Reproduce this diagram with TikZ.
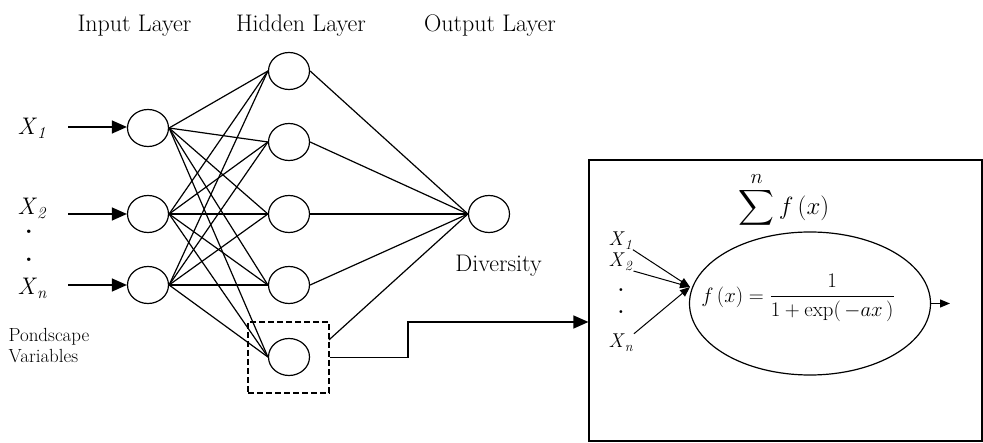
\documentclass[tikz,border=0pt]{standalone}
\usepackage{amsmath}
\usetikzlibrary{shapes.geometric,arrows.meta,calc}
\begin{document}
\begin{tikzpicture}[x=1pt,y=-1pt,line width=1.2pt,
  neuron/.style={draw,ellipse,minimum width=41pt,minimum height=37pt,inner sep=0pt},
  lbl/.style={font=\fontsize{24}{28}\selectfont,inner sep=0pt},
  small/.style={font=\fontsize{19}{21}\selectfont,inner sep=0pt,align=left},
  inlbl/.style={font=\fontsize{20}{24}\selectfont,inner sep=0pt},
  bigarrow/.style={-{Triangle[length=15pt,width=13pt]}},
  smallarrow/.style={-{Triangle[length=10pt,width=8pt]}},
  dotlbl/.style={inner sep=0pt,font=\fontsize{24}{28}\selectfont\bfseries}]
\useasboundingbox (0,0) rectangle (983,443);

% titles
\node[lbl,anchor=base] (tin) at (134.5,32) {Input Layer};
\node[lbl,anchor=base] (thid) at (301,32) {Hidden Layer};
\node[lbl,anchor=base] (tout) at (490,32) {Output Layer};

% neurons
\node[neuron] (i1) at (148,128) {};
\node[neuron] (i2) at (148,214) {};
\node[neuron] (i3) at (148,285) {};
\node[neuron] (h1) at (289,71) {};
\node[neuron] (h2) at (289,142) {};
\node[neuron] (h3) at (289,214) {};
\node[neuron] (h4) at (289,285) {};
\node[neuron] (h5) at (289,357) {};
\node[neuron] (o) at (489,214) {};

% input labels
\node[lbl,anchor=base west] (x1) at (17,135) {\textit{X}\textsubscript{\textit{1}}};
\node[lbl,anchor=base west] (x2) at (17,215) {\textit{X}\textsubscript{\textit{2}}};
\node[dotlbl] (d1) at (29,232) {.};
\node[dotlbl] (d2) at (29,260) {.};
\node[lbl,anchor=base west] (xn) at (17,295) {\textit{X}\textsubscript{\textit{n}}};
\node[small,anchor=north west] (pv) at (8,327.5) {Pondscape\\Variables};

% input arrows
\coordinate (s1) at (68,127);
\coordinate (s2) at (68,214);
\coordinate (s3) at (68,285);
\draw[bigarrow] (s1) -- (s1 -| i1.west);
\draw[bigarrow] (s2) -- (i2.west);
\draw[bigarrow] (s3) -- (i3.west);

% input -> hidden
\foreach \i in {i1,i2,i3}
  \foreach \h in {h1,h2,h3,h4,h5}
    \draw (\i.east) -- (\h.west);

% hidden -> output
\foreach \h in {h1,h2,h3,h4}
  \draw (\h.east) -- (o.west);
\coordinate (h5o) at ($(h5.east)!0.12!(o.west)$);
\draw (h5o) -- (o.west);

\node[lbl,anchor=base] (div) at (498.5,272) {Diversity};

% dashed box
\node[draw,dash pattern=on 6pt off 3pt,minimum width=81pt,minimum height=71pt,inner sep=0pt] (dbox) at (288.5,357.5) {};

% big box
\node[draw,minimum width=393pt,minimum height=281pt,inner sep=0pt] (bigbox) at (785.5,300.5) {};

% connector to big box
\coordinate (bend) at (408,322);
\draw[bigarrow] (dbox.east) -| (bend) -- (bigbox.west |- bend);

% sum
\node[inner sep=0pt,font=\fontsize{28}{32}\selectfont] (sum) at (784,200) {$\displaystyle\sum^{n} f\,(x)$};

% neuron detail
\node[draw,ellipse,minimum width=241pt,minimum height=143pt,inner sep=0pt] (ell) at (810,303.5) {};
\node[inner sep=0pt,font=\fontsize{21}{25}\selectfont] (fx) at (798,298) {$f\,(x) = \dfrac{1}{1+\exp(\,-ax\,)}$};
\coordinate (oe) at (950,303.5);
\draw[smallarrow] (ell.east) -- (oe);

\node[inlbl,anchor=base west] (y1) at (608,246) {\textit{X}\textsubscript{\textit{1}}};
\node[inlbl,anchor=base west] (y2) at (608,267) {\textit{X}\textsubscript{\textit{2}}};
\node[dotlbl,font=\fontsize{20}{24}\selectfont\bfseries] (e1) at (621,290) {.};
\node[dotlbl,font=\fontsize{20}{24}\selectfont\bfseries] (e2) at (621,312) {.};
\node[inlbl,anchor=base west] (yn) at (608,348) {\textit{X}\textsubscript{\textit{n}}};
\coordinate (tip) at (690,287);
\draw[smallarrow,line width=1pt] (y1.south east) -- (tip);
\draw[smallarrow,line width=1pt] (y2.south east) -- (tip);
\draw[smallarrow,line width=1pt] (yn.north east) -- (tip);
\end{tikzpicture}
\end{document}
